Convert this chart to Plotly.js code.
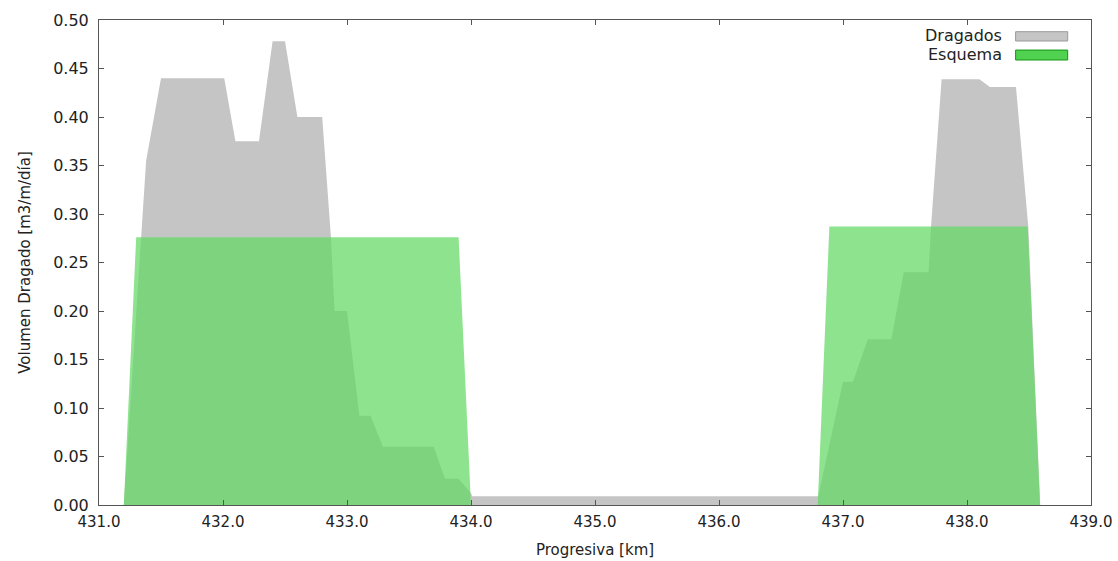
<!DOCTYPE html>
<html>
<head>
<meta charset="utf-8">
<script src="https://cdn.plot.ly/plotly-3.0.1.min.js"></script>
<style>html,body{margin:0;padding:0;background:#fff;}#chart{width:1118px;height:561px;}</style>
</head>
<body>
<div id="chart"></div>
<script>
// Dragados (grey) profile
const dragadosX = [431.20, 431.34, 431.38, 431.50, 432.01, 432.10, 432.29, 432.40, 432.50, 432.60, 432.80, 432.87, 432.90, 433.00, 433.10, 433.19, 433.29, 433.70, 433.79, 433.90, 434.00, 434.01, 436.79, 436.80, 437.00, 437.08, 437.20, 437.39, 437.49, 437.69, 437.71, 437.795, 438.10, 438.185, 438.395, 438.494, 438.59];
const dragadosY = [0.000, 0.270, 0.355, 0.440, 0.440, 0.375, 0.375, 0.478, 0.478, 0.400, 0.400, 0.277, 0.200, 0.200, 0.092, 0.092, 0.060, 0.060, 0.027, 0.027, 0.012, 0.009, 0.009, 0.009, 0.127, 0.127, 0.171, 0.171, 0.240, 0.240, 0.287, 0.439, 0.439, 0.431, 0.431, 0.287, 0.000];
// Esquema (green) profile
const esquemaX = [431.20, 431.30, 433.90, 434.00, 436.796, 436.89, 438.49, 438.59];
const esquemaY = [0.000, 0.276, 0.276, 0.000, 0.000, 0.287, 0.287, 0.000];
const legendNames = ["Dragados", "Esquema"];
const xTicks = [431, 432, 433, 434, 435, 436, 437, 438, 439];
const yTicks = [0, 0.05, 0.10, 0.15, 0.20, 0.25, 0.30, 0.35, 0.40, 0.45, 0.50];

const font = {family: "DejaVu Sans", size: 15, color: "#222"};
const yFont = {family: "DejaVu Sans", size: 16, color: "#222"};

const traces = [
  {x: dragadosX, y: dragadosY, type: "scatter", mode: "lines", fill: "tozeroy",
   fillcolor: "rgb(197,197,197)", line: {width: 0, color: "rgb(197,197,197)"}, name: legendNames[0], hoverinfo: "skip"},
  {x: esquemaX, y: esquemaY, type: "scatter", mode: "lines", fill: "tozeroy",
   fillcolor: "rgba(100,216,100,0.73)", line: {width: 0, color: "rgba(100,216,100,0.73)"}, name: legendNames[1], hoverinfo: "skip"}
];

const axisCommon = {showline: true, mirror: "allticks", linecolor: "#555", linewidth: 1,
  ticks: "inside", ticklen: 5, tickcolor: "#555", showgrid: false, zeroline: false, tickfont: font};

const layout = {
  width: 1118, height: 561,
  margin: {l: 99, r: 27, t: 20, b: 56},
  paper_bgcolor: "#fff", plot_bgcolor: "#fff",
  showlegend: false,
  xaxis: Object.assign({}, axisCommon, {range: [431, 439], tickvals: xTicks, tickformat: ".1f",
    ticklabelstandoff: 3,
    title: {text: "Progresiva [km]", font: font, standoff: 14}}),
  yaxis: Object.assign({}, axisCommon, {range: [0, 0.5], tickvals: yTicks, tickformat: ".2f",
    ticklabelstandoff: 6, tickfont: yFont,
    title: {text: "Volumen Dragado [m3/m/día]", font: font, standoff: 18}}),
  annotations: [
    {xref: "paper", yref: "paper", x: 0.912, y: 0.9676, xanchor: "right", yanchor: "middle", text: legendNames[0], showarrow: false, font: {family: "DejaVu Sans", size: 16, color: "#222"}},
    {xref: "paper", yref: "paper", x: 0.912, y: 0.929, xanchor: "right", yanchor: "middle", text: legendNames[1], showarrow: false, font: {family: "DejaVu Sans", size: 16, color: "#222"}}
  ],
  shapes: [
    {type: "rect", xref: "paper", yref: "paper", x0: 0.924, x1: 0.9765, y0: 0.9567, y1: 0.9759, fillcolor: "rgb(197,197,197)", line: {color: "#999", width: 1}},
    {type: "rect", xref: "paper", yref: "paper", x0: 0.924, x1: 0.9765, y0: 0.9175, y1: 0.938, fillcolor: "rgb(80,210,80)", line: {color: "rgb(20,150,20)", width: 1}}
  ]
};

Plotly.newPlot("chart", traces, layout, {staticPlot: true, displayModeBar: false});
</script>
</body>
</html>
